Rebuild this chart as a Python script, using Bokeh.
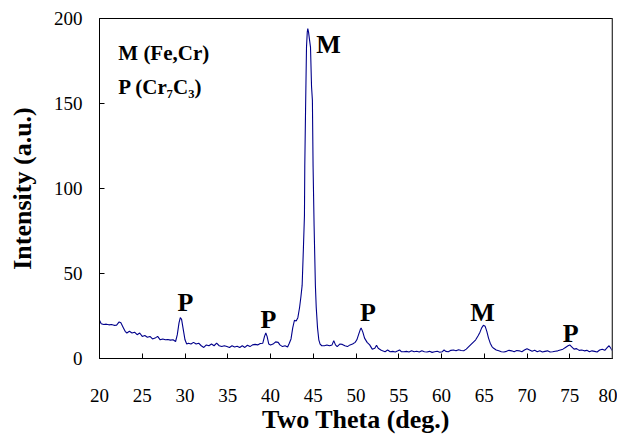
from bokeh.plotting import figure
from bokeh.models import ColumnDataSource, FixedTicker, Span
from bokeh.core.properties import value
from bokeh.embed import file_html
from bokeh.resources import INLINE

# ---- data (Two Theta in deg., Intensity a.u.) ----
two_theta = [
    20.0, 20.2, 20.5, 20.8, 21.1, 21.4, 21.7, 22.0, 22.3, 22.5, 22.8, 23.0, 23.2, 23.5, 23.8,
    24.1, 24.4, 24.7, 25.0, 25.3, 25.6, 25.9, 26.2, 26.5, 26.8, 27.1, 27.4, 27.7, 28.0, 28.3,
    28.6, 28.9, 29.1, 29.3, 29.45, 29.6, 29.8, 30.0, 30.2, 30.4, 30.7, 31.0, 31.3, 31.6, 31.9,
    32.2, 32.5, 32.8, 33.1, 33.4, 33.7, 34.0, 34.3, 34.6, 34.9, 35.2, 35.5, 35.8, 36.1, 36.4,
    36.7, 37.0, 37.3, 37.6, 37.9, 38.2, 38.5, 38.8, 39.1, 39.3, 39.45, 39.6, 39.8, 40.0, 40.3,
    40.6, 40.9, 41.1, 41.4, 41.7, 42.0, 42.2, 42.4, 42.6, 42.8, 43.0, 43.2, 43.4, 43.55, 43.7,
    43.85, 43.97, 44.01, 44.1, 44.21, 44.3, 44.36, 44.45, 44.55, 44.68, 44.8, 44.9, 44.98, 45.1,
    45.25, 45.35, 45.5, 45.65, 45.8, 46.0, 46.3, 46.6, 46.9, 47.2, 47.4, 47.6, 47.8, 48.1, 48.4,
    48.7, 49.0, 49.3, 49.6, 49.9, 50.1, 50.3, 50.5, 50.6, 50.8, 51.0, 51.3, 51.6, 51.9, 52.2,
    52.4, 52.6, 52.9, 53.1, 53.4, 53.7, 54.0, 54.3, 54.6, 54.9, 55.1, 55.3, 55.6, 55.9, 56.2,
    56.5, 56.8, 57.1, 57.4, 57.7, 58.0, 58.3, 58.6, 58.9, 59.2, 59.5, 59.8, 60.1, 60.3, 60.5,
    60.8, 61.1, 61.4, 61.7, 62.0, 62.3, 62.6, 62.9, 63.1, 63.4, 63.7, 64.0, 64.3, 64.5, 64.7,
    64.9, 65.1, 65.3, 65.5, 65.7, 65.9, 66.1, 66.4, 66.7, 67.0, 67.3, 67.6, 67.9, 68.2, 68.5,
    68.8, 69.1, 69.4, 69.7, 70.0, 70.3, 70.6, 70.9, 71.2, 71.5, 71.8, 72.1, 72.4, 72.7, 73.0,
    73.3, 73.6, 73.9, 74.2, 74.5, 74.8, 75.0, 75.2, 75.5, 75.8, 76.1, 76.4, 76.7, 77.0, 77.3,
    77.6, 77.9, 78.2, 78.5, 78.8, 79.1, 79.4, 79.6, 79.8, 80.0,
]
intensity = [
    22.5, 20.5, 20.0, 20.2, 19.8, 20.0, 19.5, 19.6, 21.5, 21.0, 18.0, 16.0, 15.0, 16.0, 15.0,
    15.5, 14.0, 15.0, 13.0, 13.5, 12.5, 13.0, 11.5, 12.0, 13.0, 11.0, 11.5, 11.0, 11.2, 10.8,
    11.0, 10.0, 14.0, 21.0, 24.0, 23.0, 17.0, 11.0, 8.5, 9.0, 8.5, 9.5, 8.5, 9.0, 7.5,
    6.5, 8.0, 7.5, 8.5, 7.5, 9.0, 7.5, 7.0, 7.5, 7.0, 6.5, 7.5, 6.8, 7.2, 6.5,
    7.5, 6.5, 7.8, 7.0, 8.0, 8.3, 8.0, 8.8, 9.0, 13.0, 15.0, 13.0, 8.5, 8.0, 8.5,
    9.8, 9.5, 8.0, 7.0, 7.5, 6.8, 9.0, 11.5, 18.0, 22.5, 22.0, 24.0, 30.0, 36.0, 43.0,
    65.0, 84.0, 113.0, 146.0, 183.0, 192.0, 194.0, 192.0, 188.0, 183.0, 160.0, 152.0, 113.0, 78.0,
    43.0, 30.0, 18.0, 11.0, 8.5, 7.5, 7.5, 8.0, 7.5, 8.0, 10.5, 8.0, 7.0, 8.5, 8.3,
    7.5, 7.0, 8.0, 8.5, 9.5, 11.0, 14.0, 17.0, 18.0, 15.5, 12.0, 9.5, 8.0, 5.5, 6.0,
    7.8, 6.0, 5.0, 4.5, 4.0, 5.0, 4.0, 4.2, 3.8, 4.5, 5.0, 4.0, 4.0, 4.2, 3.8,
    4.5, 4.0, 4.3, 3.8, 4.6, 4.0, 3.8, 4.2, 3.6, 4.0, 4.3, 3.7, 4.0, 5.0, 4.2,
    4.0, 4.8, 5.0, 4.5, 5.2, 4.7, 4.6, 5.5, 6.5, 8.0, 9.5, 11.0, 13.5, 15.5, 18.0,
    19.6, 19.0, 16.0, 12.0, 9.0, 7.0, 6.0, 5.0, 4.5, 4.0, 3.8, 4.2, 4.8, 4.5, 4.0,
    4.7, 4.5, 4.0, 5.0, 5.8, 5.0, 4.2, 4.8, 4.0, 4.5, 3.8, 4.2, 4.5, 3.8, 4.0,
    4.3, 4.5, 5.0, 5.5, 6.5, 7.5, 8.0, 7.0, 5.5, 5.8, 4.8, 5.0, 4.5, 4.8, 4.0,
    4.5, 4.2, 3.8, 5.0, 5.5, 4.8, 6.5, 7.5, 6.0, 4.5,
]

x_ticks = [20, 25, 30, 35, 40, 45, 50, 55, 60, 65, 70, 75, 80]
y_ticks = [0, 50, 100, 150, 200]

# peak labels
peak_labels = ["P", "P", "M", "P", "M", "P"]
peak_x = [30.05, 39.75, 46.8, 51.4, 64.8, 75.1]
peak_y = [33.0, 22.7, 185.0, 27.2, 27.2, 14.9]

legend_texts = ["M (Fe,Cr)", "P (Cr\u2087C\u2083)"]
legend_x = [22.2, 22.2]
legend_y = [179.5, 160.0]

SERIF = "Times New Roman"

p = figure(width=617, height=436, x_range=(20, 80), y_range=(0, 200),
           output_backend="svg", toolbar_location=None,
           min_border_left=99, min_border_right=5, min_border_top=18,
           min_border_bottom=75)
p.background_fill_color = "white"
p.border_fill_color = "white"
p.xgrid.visible = False
p.ygrid.visible = False
p.outline_line_color = "black"
p.outline_line_width = 1

src = ColumnDataSource(dict(x=two_theta, y=intensity))
p.line("x", "y", source=src, line_color="#00008B", line_width=1.1)

p.add_layout(Span(location=80, dimension="height", line_color="#808080", line_width=2))

for ax in (p.xaxis[0], p.yaxis[0]):
    ax.major_tick_in = 5
    ax.major_tick_out = 0
    ax.minor_tick_in = 0
    ax.minor_tick_out = 0
    ax.axis_line_color = "black"
    ax.major_tick_line_color = "black"
    ax.major_label_text_font = SERIF
    ax.major_label_text_font_size = "19px"
    ax.major_label_text_color = "black"
    ax.axis_label_text_font = SERIF
    ax.axis_label_text_font_style = "bold"
    ax.axis_label_text_font_size = "26px"
    ax.axis_label_text_color = "black"

p.xaxis.ticker = FixedTicker(ticks=x_ticks)
p.yaxis.ticker = FixedTicker(ticks=y_ticks)
p.xaxis.axis_label = "Two Theta (deg.)"
p.yaxis.axis_label = "Intensity (a.u.)"
p.xaxis.major_label_standoff = 30
p.yaxis.major_label_standoff = 17
p.xaxis.axis_label_standoff = 0
p.yaxis.axis_label_standoff = 14

psrc = ColumnDataSource(dict(x=peak_x, y=peak_y, t=peak_labels))
p.text("x", "y", text="t", source=psrc, text_font=value(SERIF),
       text_font_style="bold", text_font_size="26px", text_color="black",
       text_align="center", text_baseline="alphabetic")

lsrc = ColumnDataSource(dict(x=legend_x, y=legend_y, t=legend_texts))
p.text("x", "y", text="t", source=lsrc, text_font=value(SERIF),
       text_font_style="bold", text_font_size="21px", text_color="black",
       text_align="left", text_baseline="alphabetic")

with open("out.html", "w") as f:
    f.write(file_html(p, INLINE))
